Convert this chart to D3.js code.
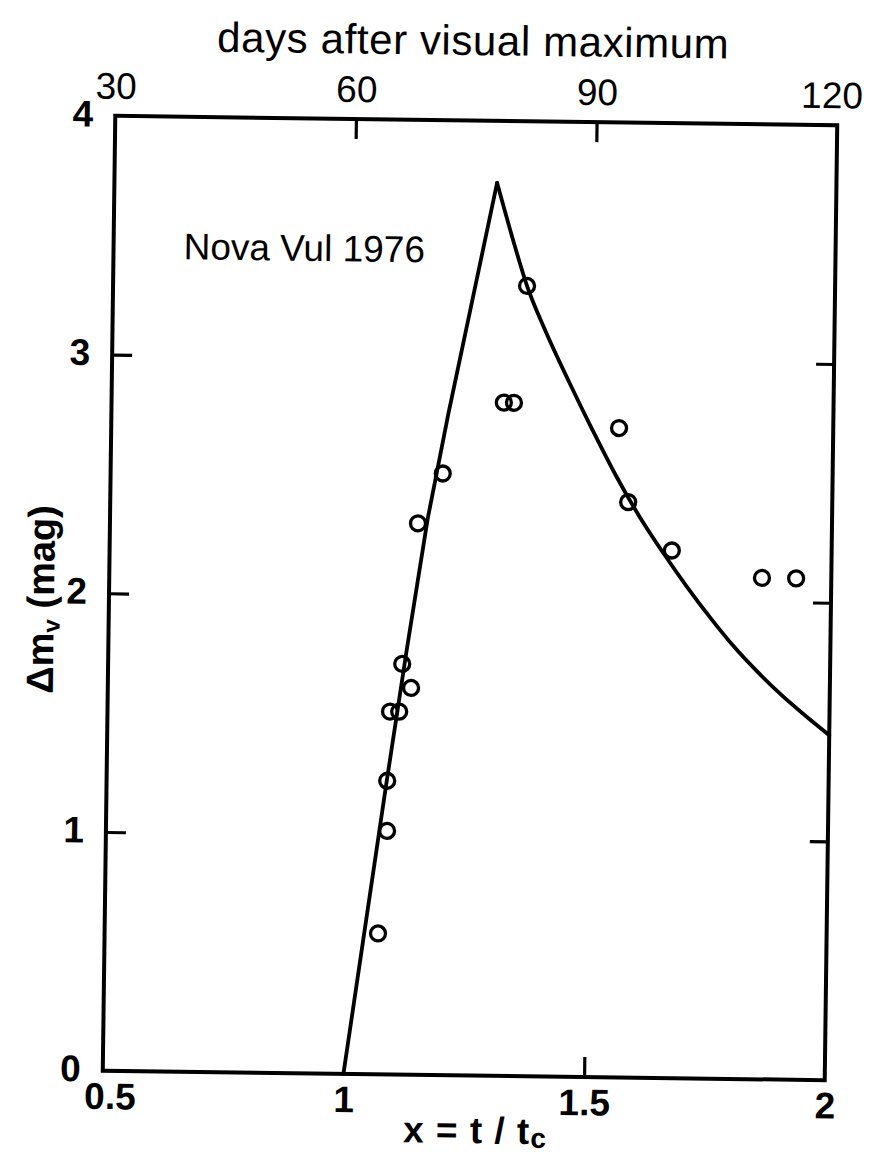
<!DOCTYPE html>
<html>
<head>
<meta charset="utf-8">
<script src="https://cdn.jsdelivr.net/npm/d3@7/dist/d3.min.js"></script>
<style>
  html, body { margin: 0; padding: 0; background: #fff; }
  svg { display: block; }
  text { font-family: "Liberation Sans", Arial, sans-serif; fill: #000; }
</style>
</head>
<body>
<svg id="chart" width="878" height="1155"></svg>
<script>
// Bottom axis: x = t / tc
const xTickValues = [0.5, 1, 1.5, 2];
const xTickLabels = ["0.5", "1", "1.5", "2"];
const xTickMarks = [1.5];

// Top axis: days after visual maximum
const dayTickValues = [30, 60, 90, 120];
const dayTickLabels = ["30", "60", "90", "120"];
const dayTickMarks = [60, 90];

// Left / right axis: Δm_v (mag)
const yTickValues = [0, 1, 2, 3, 4];
const yTickLabels = ["0", "1", "2", "3", "4"];
const yTickMarks = [1, 2, 3];

// Observed points
const obsX = [1.068, 1.084, 1.083, 1.087, 1.106, 1.111, 1.130, 1.140, 1.190,
              1.315, 1.336, 1.360, 1.555, 1.576, 1.668, 1.856, 1.927];
const obsY = [0.59, 1.02, 1.23, 1.52, 1.52, 1.72, 1.62, 2.31, 2.52,
              2.82, 2.82, 3.31, 2.72, 2.41, 2.21, 2.10, 2.10];

// Model light curve: rise to the peak, then decline
const riseX = [1.00, 1.04, 1.08, 1.12, 1.16, 1.20, 1.25, 1.295];
const riseY = [0.00, 0.60, 1.20, 1.78, 2.33, 2.77, 3.28, 3.74];
const fallX = [1.295, 1.33, 1.36, 1.40, 1.45, 1.50, 1.55, 1.60, 1.65, 1.70,
               1.75, 1.80, 1.85, 1.90, 1.95, 2.00];
const fallY = [3.74, 3.50, 3.31, 3.12, 2.91, 2.71, 2.52, 2.35, 2.20, 2.06,
               1.93, 1.81, 1.705, 1.61, 1.525, 1.445];

// Plot frame geometry (the whole drawing sits at a slight tilt)
const cx = 470, cy = 598, fw = 722, fh = 955, tilt = 0.75;
const frameLeft = cx - fw / 2, frameTop = cy - fh / 2;

const x = d3.scaleLinear().domain([0.5, 2]).range([frameLeft, frameLeft + fw]);
const days = d3.scaleLinear().domain([30, 120]).range([frameLeft, frameLeft + fw]);
const y = d3.scaleLinear().domain([0, 4]).range([frameTop + fh, frameTop]);

const svg = d3.select("#chart");
svg.append("rect").attr("width", 878).attr("height", 1155).attr("fill", "#fff");

const g = svg.append("g").attr("transform", `rotate(${tilt},${cx},${cy})`);

function styleLabels(sel, size, weight) {
  sel.select(".domain").remove();
  sel.selectAll(".tick line").remove();
  sel.selectAll("text")
    .attr("fill", "#000")
    .style("font-family", '"Liberation Sans", Arial, sans-serif')
    .style("font-size", size + "px")
    .style("font-weight", weight);
}
function styleMarks(sel) {
  sel.select(".domain").remove();
  sel.selectAll("text").remove();
  sel.selectAll(".tick line").attr("stroke", "#000").attr("stroke-width", 3.2);
}

// Tick labels
g.append("g").attr("transform", `translate(0,${frameTop + fh})`)
  .call(d3.axisBottom(x).tickValues(xTickValues)
    .tickFormat(d => xTickLabels[xTickValues.indexOf(d)])
    .tickSize(0).tickPadding(12))
  .call(s => styleLabels(s, 37, "bold"))
  .call(s => s.selectAll("text").filter(d => d === 0.5).attr("dx", 7));

g.append("g").attr("transform", `translate(0,${frameTop})`)
  .call(d3.axisTop(days).tickValues(dayTickValues)
    .tickFormat(d => dayTickLabels[dayTickValues.indexOf(d)])
    .tickSize(0).tickPadding(17))
  .call(s => styleLabels(s, 37, "normal"))
  .call(s => s.selectAll("text").filter(d => d === 120).attr("dx", -6));

g.append("g").attr("transform", `translate(${frameLeft},0)`)
  .call(d3.axisLeft(y).tickValues(yTickValues)
    .tickFormat(d => yTickLabels[yTickValues.indexOf(d)])
    .tickSize(0).tickPadding(22))
  .call(s => styleLabels(s, 37, "bold"))
  .call(s => s.selectAll("text").attr("dy", "0.28em"));

// Inward tick marks
g.append("g").attr("transform", `translate(0,${frameTop + fh})`)
  .call(d3.axisBottom(x).tickValues(xTickMarks).tickSize(-20).tickFormat(""))
  .call(styleMarks);
g.append("g").attr("transform", `translate(0,${frameTop})`)
  .call(d3.axisTop(days).tickValues(dayTickMarks).tickSize(-20).tickFormat(""))
  .call(styleMarks);
g.append("g").attr("transform", `translate(${frameLeft},0)`)
  .call(d3.axisLeft(y).tickValues(yTickMarks).tickSize(-20).tickFormat(""))
  .call(styleMarks);
g.append("g").attr("transform", `translate(${frameLeft + fw},0)`)
  .call(d3.axisRight(y).tickValues(yTickMarks).tickSize(-18).tickFormat(""))
  .call(styleMarks);

// Frame
g.append("rect")
  .attr("x", x(0.5)).attr("y", y(4))
  .attr("width", x(2) - x(0.5)).attr("height", y(0) - y(4))
  .attr("fill", "none").attr("stroke", "#000").attr("stroke-width", 4);

// Model curve
const line = d3.line().x(d => x(d[0])).y(d => y(d[1]));
g.append("path")
  .attr("d", line(d3.zip(riseX, riseY)))
  .attr("fill", "none").attr("stroke", "#000").attr("stroke-width", 3.8)
  .attr("stroke-linecap", "round").attr("stroke-linejoin", "round");
g.append("path")
  .attr("d", line.curve(d3.curveMonotoneX)(d3.zip(fallX, fallY)))
  .attr("fill", "none").attr("stroke", "#000").attr("stroke-width", 3.8)
  .attr("stroke-linecap", "round").attr("stroke-linejoin", "round");

// Observations
g.append("g").selectAll("circle")
  .data(d3.zip(obsX, obsY))
  .join("circle")
  .attr("cx", d => x(d[0])).attr("cy", d => y(d[1]))
  .attr("r", 7.5)
  .attr("fill", "none").attr("stroke", "#000").attr("stroke-width", 3.3);

// Titles and annotation
g.append("text")
  .attr("x", 466).attr("y", 55)
  .attr("text-anchor", "middle")
  .style("font-size", "42px").style("letter-spacing", "0.6px")
  .text("days after visual maximum");

g.append("text")
  .attr("x", 179).attr("y", 263)
  .style("font-size", "37px")
  .text("Nova Vul 1976");

const xt = g.append("text")
  .attr("x", 482).attr("y", 1143)
  .attr("text-anchor", "middle")
  .style("font-size", "37px").style("font-weight", "bold")
  .style("letter-spacing", "1px");
xt.append("tspan").text("x = t / t");
xt.append("tspan").attr("dy", 4).style("font-size", "28px").text("c");

const yt = g.append("text")
  .attr("transform", "translate(54,605) rotate(-90)")
  .attr("text-anchor", "middle")
  .style("font-size", "38px").style("font-weight", "bold");
yt.append("tspan").text("Δm");
yt.append("tspan").attr("dy", 6).style("font-size", "24px").text("v");
yt.append("tspan").attr("dy", -6).text(" (mag)");
</script>
</body>
</html>
